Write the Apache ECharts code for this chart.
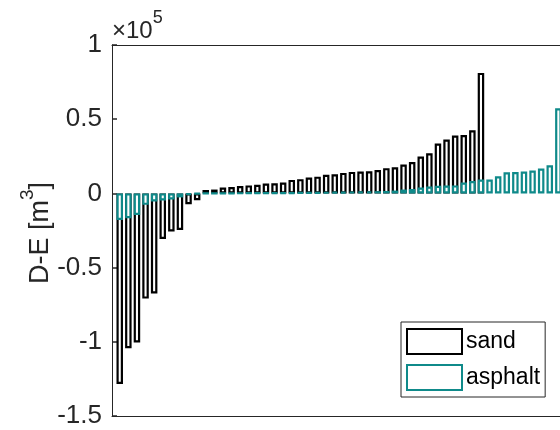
<!DOCTYPE html>
<html>
<head>
<meta charset="utf-8">
<script src="https://cdn.jsdelivr.net/npm/echarts@6/dist/echarts.min.js"></script>
<style>
  html, body { margin: 0; padding: 0; background: #fff; }
  #chart { width: 560px; height: 430px; }
</style>
</head>
<body>
<div id="chart"></div>
<script>
// Volume difference D-E per site, sorted ascending, in m^3
const sand = [
  -128400, -104300, -100500, -70900, -67500, -30700, -25700, -24600, -7300, -4600,
  2300, 2600, 4000, 4300, 5000, 5400, 5800, 6600, 6800, 7300,
  9100, 9600, 10700, 11300, 12500, 12900, 13800, 14500, 14700, 14900,
  15800, 17000, 17600, 19500, 21200, 24800, 27100, 33600, 36300, 39000,
  39400, 42600, 81200
];
const asphalt = [
  -17900, -16700, -14500, -7700, -5500, -4800, -4100, -2700, -1000, -400,
  -100, 0, 100, 150, 200, 250, 300, 350, 400, 450,
  500, 600, 700, 800, 900, 1000, 1100, 1200, 1300, 1400,
  1500, 1600, 1900, 2600, 3000, 3900, 4600, 5100, 5300, 5400,
  7300, 8400, 9300, 9400, 11600, 14300, 14400, 14700, 15400, 16700,
  19000, 57400
];
const seriesNames = ['sand', 'asphalt'];
const yMin = -1.5e5, yMax = 1e5, yStep = 0.5e5;
const exponent = 5;
const yTitle = 'D-E [m';
const yTitleSup = '3';

const FONT = '"Liberation Sans", Arial, Helvetica, sans-serif';
const AX = '#262626';

const toPoints = arr => arr.map((v, i) => [i + 1, v]);

// the axes box continues past the right edge of the canvas
const xMin = 0.1, xMax = 52.19;

const chart = echarts.init(document.getElementById('chart'), null, { renderer: 'canvas' });

const hiddenX = {
  type: 'value', min: xMin, max: xMax,
  axisTick: { show: false }, axisLabel: { show: false }, splitLine: { show: false },
  axisLine: { show: true, onZero: false, lineStyle: { color: AX, width: 1 } }
};

chart.setOption({
  animation: false,
  backgroundColor: '#fff',
  grid: { left: 112, top: 45, right: 0, bottom: 14, show: false },
  xAxis: [
    Object.assign({ position: 'bottom' }, hiddenX),
    Object.assign({ position: 'top' }, hiddenX)
  ],
  yAxis: {
    type: 'value', min: yMin, max: yMax, interval: yStep,
    axisLine: { show: true, lineStyle: { color: AX, width: 1 } },
    axisTick: { show: true, inside: true, length: 5, lineStyle: { color: AX, width: 1.5 } },
    splitLine: { show: false },
    axisLabel: {
      margin: 10, color: AX, fontSize: 26, fontFamily: FONT,
      formatter: v => String(+(v / Math.pow(10, exponent)).toFixed(2))
    }
  },
  legend: {
    orient: 'vertical', left: 401, top: 322,
    itemWidth: 55, itemHeight: 25, itemGap: 9,
    padding: [6, 5, 6, 5],
    backgroundColor: '#fff', borderColor: AX, borderWidth: 1, borderRadius: 0,
    icon: 'rect',
    itemStyle: { borderWidth: 2 },
    textStyle: { fontSize: 23, fontFamily: FONT, color: '#000', padding: [0, 0, 0, -1] },
    data: seriesNames
  },
  graphic: [
    {
      type: 'text', left: 112, top: 9,
      style: {
        text: '{t|\u00d710}{e|' + exponent + '}',
        rich: {
          t: { fontSize: 24, fontFamily: FONT, fill: AX, verticalAlign: 'bottom', lineHeight: 34 },
          e: { fontSize: 18, fontFamily: FONT, fill: AX, verticalAlign: 'top', lineHeight: 34, padding: [0, 0, 15, 0] }
        }
      }
    },
    {
      type: 'text', x: 36, y: 233, rotation: Math.PI / 2,
      style: {
        text: '{b|' + yTitle + '}{s|' + yTitleSup + '}{b|]}',
        align: 'center', verticalAlign: 'middle',
        rich: {
          b: { fontSize: 27, fontFamily: FONT, fill: AX, verticalAlign: 'bottom', lineHeight: 36 },
          s: { fontSize: 19, fontFamily: FONT, fill: AX, verticalAlign: 'top', lineHeight: 36, padding: [0, 0, 15, 0] }
        }
      }
    }
  ],
  series: [
    {
      name: seriesNames[0], type: 'bar', data: toPoints(sand),
      barWidth: 6.5, barGap: '-100%', clip: false,
      itemStyle: { color: '#fff', borderColor: '#000', borderWidth: 2.2 }
    },
    {
      name: seriesNames[1], type: 'bar', data: toPoints(asphalt),
      barWidth: 6.5, barGap: '-100%', clip: false,
      itemStyle: { color: '#fff', borderColor: '#0f8a8a', borderWidth: 2.2 }
    }
  ]
});
</script>
</body>
</html>
